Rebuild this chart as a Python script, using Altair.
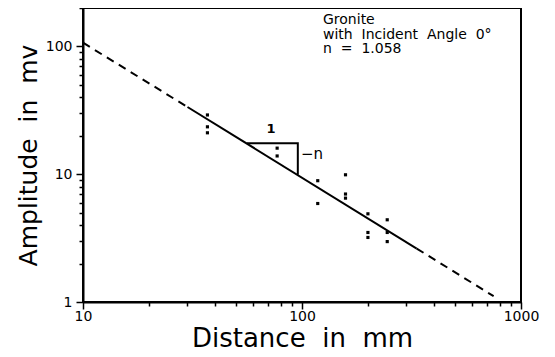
import altair as alt
import pandas as pd

# measured points
dist = [37, 37, 37, 77, 77, 118, 118, 158, 158, 158, 200, 200, 200, 245, 245, 245]
amp = [29.1, 23.5, 21.1, 16.0, 13.9, 8.9, 5.9, 9.9, 7.0, 6.5, 4.9, 3.5, 3.2, 4.4, 3.5, 2.97]

# fitted line (n = 1.058): dashed extensions and solid middle
fit_x = [10, 30, 30, 334, 334, 750]
fit_y = [107, 33.6, 33.6, 2.62, 2.62, 1.11]
fit_seg = ["d1", "d1", "s", "s", "d2", "d2"]

# slope triangle
tri_x = [56, 95.7, 95.7]
tri_y = [17.5, 17.5, 9.9]

x_ticks = [10, 20, 30, 40, 50, 60, 70, 80, 90, 100, 200, 300, 400, 500, 600, 700, 800, 900, 1000]
y_ticks = [1, 2, 3, 4, 5, 6, 7, 8, 9, 10, 20, 30, 40, 50, 60, 70, 80, 90, 100, 200]

NB = "\u00a0"
note_lines = ["Gronite", f"with{NB}{NB}Incident{NB}{NB}Angle{NB}{NB}0°", f"n{NB}{NB}={NB}{NB}1.058"]
x_title = f"Distance{NB}{NB}in{NB}{NB}mm"
y_title = f"Amplitude{NB}{NB}in{NB}{NB}mv"

FONT = "DejaVu Sans"
is_pow = "abs(log(datum.value)/log(10) - round(log(datum.value)/log(10))) < 1e-6"

xscale = alt.Scale(type="log", domain=[10, 1000])
yscale = alt.Scale(type="log", domain=[1, 200])

pts = pd.DataFrame({"x": dist, "y": amp})
fit = pd.DataFrame({"x": fit_x, "y": fit_y, "seg": fit_seg})
tri = pd.DataFrame({"x": tri_x, "y": tri_y, "o": [0, 1, 2]})

xaxis = alt.Axis(values=x_ticks, labelExpr=f"{is_pow} ? format(datum.value, 'd') : ''",
                 title=x_title, grid=False,
                 tickSize={"condition": {"test": is_pow, "value": 7}, "value": 4},
                 tickColor="black", tickWidth=1.5, domainColor="black", domainWidth=2,
                 labelFont=FONT, labelFontSize=14, labelColor="black", labelPadding=0,
                 titleFont=FONT, titleFontSize=26, titleFontWeight="normal", titleColor="black",
                 titleBaseline="alphabetic", titleY=44, labelFlush=False)
yaxis = alt.Axis(values=y_ticks, labelExpr=f"{is_pow} ? format(datum.value, 'd') : ''",
                 title=y_title, grid=False,
                 tickSize={"condition": {"test": is_pow, "value": 7}, "value": 4},
                 tickColor="black", tickWidth=1.5, domainColor="black", domainWidth=2,
                 labelFont=FONT, labelFontSize=14, labelColor="black", labelPadding=4,
                 titleFont=FONT, titleFontSize=25, titleFontWeight="normal", titleColor="black",
                 titleBaseline="alphabetic", titleX=-47, labelFlush=False)

X = alt.X("x:Q", scale=xscale, axis=xaxis)
Y = alt.Y("y:Q", scale=yscale, axis=yaxis)

points = alt.Chart(pts).mark_square(size=10, color="black", opacity=1).encode(x=X, y=Y)

solid = alt.Chart(fit).transform_filter("datum.seg == 's'").mark_line(
    color="black", strokeWidth=2).encode(x=X, y=Y, detail="seg:N")

dashed = alt.Chart(fit).transform_filter("datum.seg != 's'").mark_line(
    color="black", strokeWidth=2, strokeDash=[8, 6]).encode(x=X, y=Y, detail="seg:N")

triangle = alt.Chart(tri).mark_line(color="black", strokeWidth=2).encode(
    x=X, y=Y, order="o:Q")

one_lbl = alt.Chart(pd.DataFrame({"t": ["1"]})).mark_text(
    font=FONT, fontSize=13, fontWeight="bold", color="black", align="center", baseline="alphabetic").encode(
    x=alt.value(188), y=alt.value(125), text="t:N")
n_lbl = alt.Chart(pd.DataFrame({"t": ["−n"]})).mark_text(
    font=FONT, fontSize=15, color="black", align="left", baseline="middle").encode(
    x=alt.value(218), y=alt.value(146), text="t:N")

note = alt.Chart(pd.DataFrame({"t": ["\n".join(note_lines)]})).mark_text(
    font=FONT, fontSize=14, color="black", align="left", baseline="alphabetic",
    lineBreak="\n", lineHeight=14.5).encode(
    x=alt.value(240), y=alt.value(16), text="t:N")

chart = alt.layer(points, dashed, solid, triangle, one_lbl, n_lbl, note).properties(
    width=438, height=294,
    autosize=alt.AutoSizeParams(type="none"),
    padding={"left": 75, "top": 0, "right": 26, "bottom": 54},
    background="white",
).configure_view(stroke="black", strokeWidth=2)

chart.save("out.html", embed_options={"renderer": "svg", "actions": False})
